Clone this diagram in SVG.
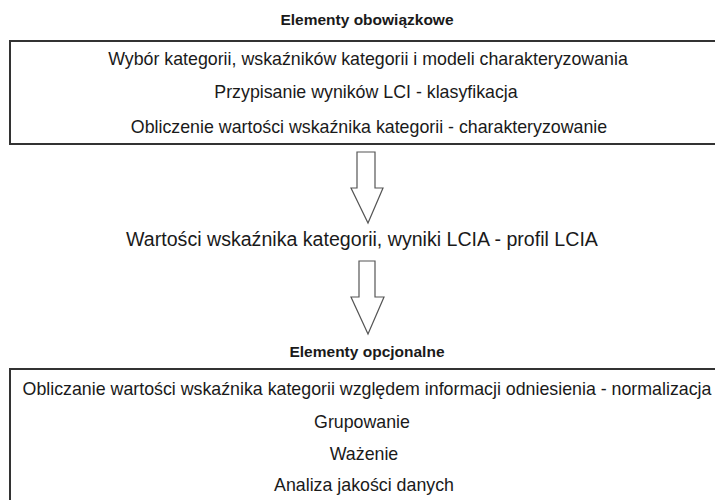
<svg xmlns="http://www.w3.org/2000/svg" width="715" height="500" viewBox="0 0 715 500">
<style>
.t{font-family:"Liberation Sans",Arial,sans-serif;font-size:17.8px;fill:#1a1a1a;text-anchor:middle}
.h{font-family:"Liberation Sans",Arial,sans-serif;font-size:15.5px;font-weight:bold;fill:#1a1a1a;text-anchor:middle}
.m{font-size:19.6px}
.box{fill:#fff;stroke:#333;stroke-width:2}
.arr{fill:#fff;stroke:#555;stroke-width:1.2;stroke-linejoin:miter}
</style>
<rect width="715" height="500" fill="#fff"/>
<g id="obowiazkowe">
<text class="h" x="367" y="25">Elementy obowiązkowe</text>
<rect class="box" x="10" y="41" width="720" height="103"/>
<text class="t" x="368" y="65">Wybór kategorii, wskaźników kategorii i modeli charakteryzowania</text>
<text class="t" x="366" y="98">Przypisanie wyników LCI - klasyfikacja</text>
<text class="t" x="369" y="133">Obliczenie wartości wskaźnika kategorii - charakteryzowanie</text>
</g>
<g id="wyniki">
<text class="t m" x="362" y="246">Wartości wskaźnika kategorii, wyniki LCIA - profil LCIA</text>
</g>
<g id="opcjonalne">
<text class="h" x="367" y="357">Elementy opcjonalne</text>
<rect class="box" x="10" y="369" width="720" height="150"/>
<text class="t" x="367" y="395">Obliczanie wartości wskaźnika kategorii względem informacji odniesienia - normalizacja</text>
<text class="t" x="362" y="428">Grupowanie</text>
<text class="t" x="364" y="460">Ważenie</text>
<text class="t" x="364" y="491">Analiza jakości danych</text>
</g>
<g id="connectors">
<path class="arr" d="M357,152 H375 V188 H383 L368,223 L351,188 H357 Z"/>
<path class="arr" d="M359,261 H375 V297 H384 L368,334 L351,297 H359 Z"/>
</g>
</svg>
